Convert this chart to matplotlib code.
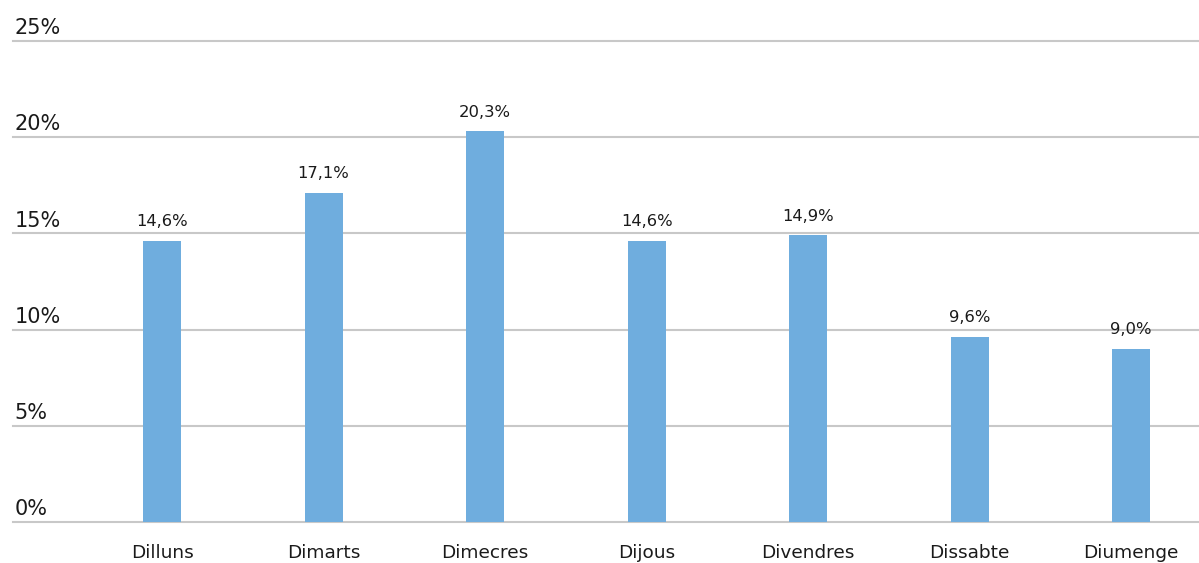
import matplotlib
matplotlib.use("Agg")
import matplotlib.pyplot as plt
from matplotlib.transforms import blended_transform_factory

categories = ["Dilluns", "Dimarts", "Dimecres", "Dijous", "Divendres", "Dissabte", "Diumenge"]
values = [14.6, 17.1, 20.3, 14.6, 14.9, 9.6, 9.0]
yticks = [0, 5, 10, 15, 20, 25]
ytick_labels = ["0%", "5%", "10%", "15%", "20%", "25%"]

W, H = 1199, 563
fig = plt.figure(figsize=(W / 100, H / 100), dpi=100)
ax = fig.add_axes([13 / W, (H - 522) / H, (1199 - 13) / W, (522 - 41) / H])

x = list(range(len(categories)))
bar_color = "#6fadde"
ax.bar(x, values, width=0.235, color=bar_color, zorder=3)

ax.set_xlim(-0.923, 6.42)
ax.set_ylim(0, 25)
ax.set_yticks(yticks)
ax.set_yticklabels([])
ax.tick_params(axis="y", length=0)
for v in yticks:
    ax.axhline(v, color="#c8c8c8", linewidth=1.5, zorder=0, clip_on=False)
ax.set_xticks(x)
ax.set_xticklabels(categories, fontsize=13.3, color="#1a1a1a", family="DejaVu Sans")
ax.tick_params(axis="x", length=0, pad=16)
for s in ax.spines.values():
    s.set_visible(False)

tr = blended_transform_factory(ax.transAxes, ax.transData)
for v, lab in zip(yticks, ytick_labels):
    ax.annotate(lab, xy=(0, v), xycoords=tr, xytext=(1, 2), textcoords="offset points",
                ha="left", va="bottom", fontsize=15, color="#1a1a1a")

for xi, v in zip(x, values):
    ax.annotate(f"{v:.1f}%".replace(".", ","), xy=(xi, v), xytext=(0, 8.5), textcoords="offset points",
                ha="center", va="bottom", fontsize=11.8, color="#1a1a1a")

fig.savefig("out.png", dpi=100)
